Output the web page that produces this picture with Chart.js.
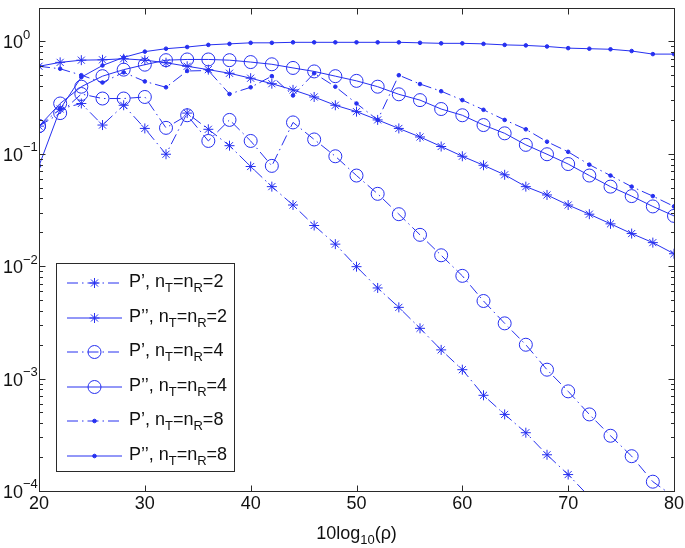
<!DOCTYPE html>
<html>
<head>
<meta charset="utf-8">
<script src="https://cdn.jsdelivr.net/npm/chart.js@4"></script>
<style>
  html, body { margin: 0; padding: 0; background: #fff; }
  canvas { display: block; }
</style>
</head>
<body>
<canvas id="chart" width="685" height="548"></canvas>
<script>
// x axis: SNR in dB, one marker every 2 dB
const snrDb = [20, 22, 24, 26, 28, 30, 32, 34, 36, 38, 40, 42, 44, 46, 48, 50,
               52, 54, 56, 58, 60, 62, 64, 66, 68, 70, 72, 74, 76, 78, 80];

// P', nT=nR=2 (leaves the axes just after 70 dB)
const pPrime2 = [0.176, 0.25, 0.28, 0.18, 0.27, 0.168, 0.099, 0.23, 0.165, 0.118, 0.077,
                 0.051, 0.035, 0.023, 0.0157, 0.0099, 0.0064, 0.0043, 0.0028, 0.0018, 0.0012,
                 0.00071, 0.00048, 0.00033, 0.00021, 0.00014, 0.000089];
// P'', nT=nR=2
const pDouble2 = [0.60, 0.65, 0.68, 0.685, 0.70, 0.68, 0.645, 0.60, 0.56, 0.52, 0.47,
                  0.42, 0.37, 0.32, 0.27, 0.237, 0.20, 0.168, 0.141, 0.116, 0.095,
                  0.079, 0.065, 0.051, 0.043, 0.035, 0.029, 0.0238, 0.0195, 0.0162, 0.0129];
// P', nT=nR=4
const pPrime4 = [0.176, 0.23, 0.34, 0.31, 0.31, 0.32, 0.17, 0.22, 0.13, 0.20, 0.13,
                 0.078, 0.19, 0.134, 0.095, 0.064, 0.044, 0.029, 0.019, 0.0125, 0.0082,
                 0.0049, 0.0031, 0.0020, 0.0012, 0.00077, 0.00048, 0.00031, 0.000204, 0.000121, 0.000089];
// P'', nT=nR=4
const pDouble4 = [0.176, 0.28, 0.395, 0.49, 0.56, 0.62, 0.68, 0.69, 0.69, 0.68, 0.654,
                  0.625, 0.58, 0.54, 0.49, 0.445, 0.395, 0.338, 0.30, 0.25, 0.22,
                  0.18, 0.152, 0.12, 0.099, 0.081, 0.064, 0.051, 0.042, 0.034, 0.028];
// P', nT=nR=8
const pPrime8 = [0.60, 0.57, 0.50, 0.43, 0.53, 0.44, 0.39, 0.545, 0.55, 0.34, 0.39,
                 0.49, 0.33, 0.52, 0.395, 0.28, 0.20, 0.50, 0.417, 0.36, 0.30,
                 0.246, 0.20, 0.165, 0.128, 0.104, 0.08, 0.064, 0.051, 0.042, 0.034];
// P'', nT=nR=8
const pDouble8 = [0.078, 0.25, 0.48, 0.61, 0.72, 0.81, 0.86, 0.89, 0.93, 0.95, 0.97,
                  0.97, 0.98, 0.98, 0.98, 0.98, 0.98, 0.98, 0.97, 0.96, 0.96,
                  0.95, 0.93, 0.92, 0.90, 0.87, 0.86, 0.85, 0.82, 0.77, 0.77];

const xTicks = [20, 30, 40, 50, 60, 70, 80];
const yExponents = [0, -1, -2, -3, -4];
const X_MIN = 20, X_MAX = 80, Y_MIN = 1e-4, Y_MAX = 2;

const BLUE = 'rgb(38,48,240)';
const DASHDOT = [11, 4, 1.5, 4];
const FONT = '"Liberation Sans", Arial, Helvetica, sans-serif';

function toPoints(values) {
    return values.map((v, i) => ({ x: snrDb[i], y: v }));
}

// markers outside the axes are not drawn (like MATLAB)
function radiusInside(r) {
    return ctx => (ctx.raw && ctx.raw.y < Y_MIN) ? 0 : r;
}

function markerRadius(marker) {
    return marker === 'star' ? 5 : marker === 'ring' ? 6.5 : 1.8;
}

function makeSet(label, values, marker, dashed) {
    return {
        label: label,
        data: toPoints(values),
        borderColor: BLUE,
        borderWidth: 1,
        borderDash: dashed ? DASHDOT : [],
        pointStyle: marker === 'star' ? 'star' : 'circle',
        pointRadius: radiusInside(markerRadius(marker)),
        pointBorderColor: BLUE,
        pointBackgroundColor: marker === 'dot' ? BLUE : 'rgba(0,0,0,0)',
        pointBorderWidth: 1,
        tension: 0,
        fill: false,
        marker: marker
    };
}

const legendRows = [
    { prime: 'P\u2019', n: '2' },
    { prime: 'P\u2019\u2019', n: '2' },
    { prime: 'P\u2019', n: '4' },
    { prime: 'P\u2019\u2019', n: '4' },
    { prime: 'P\u2019', n: '8' },
    { prime: 'P\u2019\u2019', n: '8' }
];

// draw a run of text pieces, some of them as sub/superscripts
function drawRich(ctx, pieces, x, y, size) {
    let cx = x;
    pieces.forEach(p => {
        const s = p.sub || p.sup ? Math.round(size * 0.72) : size;
        ctx.font = s + 'px ' + FONT;
        const dy = p.sub ? size * 0.36 : p.sup ? -size * 0.45 : 0;
        ctx.fillText(p.t, cx, y + dy);
        cx += ctx.measureText(p.t).width;
    });
    return cx - x;
}

function richWidth(ctx, pieces, size) {
    let w = 0;
    pieces.forEach(p => {
        const s = p.sub || p.sup ? Math.round(size * 0.72) : size;
        ctx.font = s + 'px ' + FONT;
        w += ctx.measureText(p.t).width;
    });
    return w;
}

// axes box, inward ticks, labels and legend drawn MATLAB-style
const matlabAxes = {
    id: 'matlabAxes',
    afterDatasetsDraw(chart) {
        const ctx = chart.ctx;
        const area = chart.chartArea;
        const xs = chart.scales.x, ys = chart.scales.y;
        const L = Math.round(area.left) + 0.5, R = Math.round(area.right) + 0.5;
        const T = Math.round(area.top) + 0.5, B = Math.round(area.bottom) + 0.5;
        ctx.save();
        ctx.strokeStyle = '#2a2a2a';
        ctx.lineWidth = 1;
        ctx.setLineDash([]);
        ctx.strokeRect(L, T, R - L, B - T);

        ctx.beginPath();
        xTicks.forEach(v => {
            const px = Math.round(xs.getPixelForValue(v)) + 0.5;
            ctx.moveTo(px, B); ctx.lineTo(px, B - 6);
            ctx.moveTo(px, T); ctx.lineTo(px, T + 6);
        });
        yExponents.forEach(e => {
            for (let m = 1; m <= 9; m++) {
                const v = m * Math.pow(10, e);
                if (v < Y_MIN || v > Y_MAX) continue;
                const py = Math.round(ys.getPixelForValue(v)) + 0.5;
                const len = m === 1 ? 6 : 3.5;
                ctx.moveTo(L, py); ctx.lineTo(L + len, py);
                ctx.moveTo(R, py); ctx.lineTo(R - len, py);
            }
        });
        ctx.stroke();

        // tick labels
        ctx.fillStyle = '#111';
        ctx.textBaseline = 'middle';
        ctx.textAlign = 'center';
        ctx.font = '18px ' + FONT;
        xTicks.forEach(v => {
            ctx.fillText(String(v), xs.getPixelForValue(v), area.bottom + 13);
        });
        ctx.textAlign = 'left';
        yExponents.forEach(e => {
            const py = ys.getPixelForValue(Math.pow(10, e));
            const exp = e === 0 ? '0' : '\u2212' + (-e);
            drawRich(ctx, [{ t: '10' }, { t: exp, sup: true }], 3, py + 2, 18);
        });

        // x axis title
        const title = [{ t: '10log' }, { t: '10', sub: true }, { t: '(\u03c1)' }];
        const tw = richWidth(ctx, title, 18);
        drawRich(ctx, title, (area.left + area.right) / 2 - tw / 2, 534, 18);

        // legend
        const bx = 56.5, by = 263.5, bw = 178, bh = 208;
        ctx.fillStyle = '#fff';
        ctx.fillRect(bx, by, bw, bh);
        ctx.strokeStyle = '#2a2a2a';
        ctx.strokeRect(bx, by, bw, bh);
        chart.data.datasets.forEach((ds, i) => {
            const y = Math.round(283 + i * 34.5);
            ctx.strokeStyle = BLUE;
            ctx.lineWidth = 1;
            ctx.setLineDash(ds.borderDash);
            ctx.beginPath();
            ctx.moveTo(67, y); ctx.lineTo(122, y);
            ctx.stroke();
            ctx.setLineDash([]);
            ctx.fillStyle = ds.pointBackgroundColor;
            Chart.helpers.drawPoint(ctx, { pointStyle: ds.pointStyle, radius: markerRadius(ds.marker),
                                           rotation: 0, borderWidth: 1 }, 94.5, y);
            const row = legendRows[i];
            ctx.fillStyle = '#111';
            ctx.textBaseline = 'middle';
            drawRich(ctx, [{ t: row.prime + ', n' }, { t: 'T', sub: true }, { t: '=n' },
                           { t: 'R', sub: true }, { t: '=' + row.n }], 129, y - 1, 18);
        });
        ctx.restore();
    }
};

new Chart(document.getElementById('chart'), {
    type: 'line',
    data: {
        datasets: [
            makeSet("P', nT=nR=2", pPrime2, 'star', true),
            makeSet("P'', nT=nR=2", pDouble2, 'star', false),
            makeSet("P', nT=nR=4", pPrime4, 'ring', true),
            makeSet("P'', nT=nR=4", pDouble4, 'ring', false),
            makeSet("P', nT=nR=8", pPrime8, 'dot', true),
            makeSet("P'', nT=nR=8", pDouble8, 'dot', false)
        ]
    },
    options: {
        responsive: false,
        animation: false,
        events: [],
        layout: { padding: { left: 39, right: 11, top: 1, bottom: 57 } },
        plugins: { legend: { display: false }, tooltip: { enabled: false } },
        scales: {
            x: { type: 'linear', min: X_MIN, max: X_MAX, display: false },
            y: { type: 'logarithmic', min: Y_MIN, max: Y_MAX, display: false }
        }
    },
    plugins: [matlabAxes]
});
</script>
</body>
</html>
